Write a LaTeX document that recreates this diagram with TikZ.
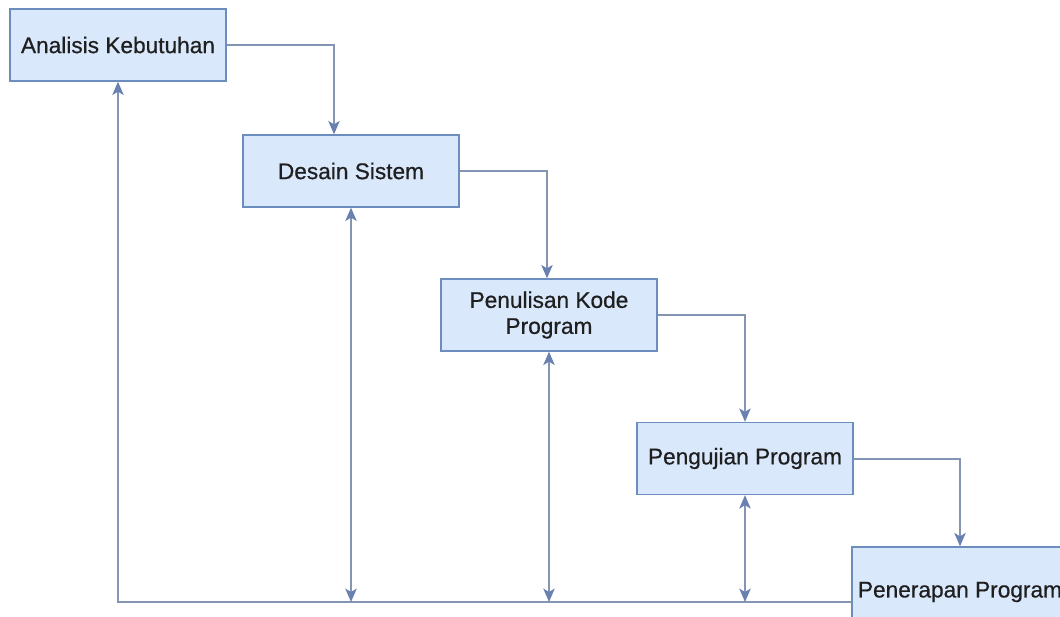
\documentclass[tikz,border=0pt]{standalone}
\usepackage{fontspec}
\setmainfont{Liberation Sans}[FakeBold=0.6]
\usetikzlibrary{arrows.meta,positioning}
\definecolor{boxfill}{HTML}{DAE8FC}
\definecolor{boxline}{HTML}{6C8EBF}
\definecolor{edgeline}{HTML}{8494B3}
\definecolor{tipfill}{HTML}{6A80B0}
\tikzset{tip/.tip={Stealth[length=10pt,width=8.5pt,inset=2.5pt,color=tipfill]}}
\begin{document}
\begin{tikzpicture}[x=0.75pt,y=-0.75pt,
    phase/.style={rectangle,draw=boxline,fill=boxfill,line width=1pt,
        minimum width=162pt,minimum height=54pt,inner sep=2pt,align=center,
        text=black!88,font=\fontsize{17}{19.5}\selectfont},
    flow/.style={draw=edgeline,line width=1.5pt,-tip},
    twoway/.style={flow,tip-tip}]
    \useasboundingbox (0,0) rectangle (1060,617);
    \clip (0,0) rectangle (1060,617);
    \fill[white] (0,0) rectangle (1060,617);
    \coordinate (base) at (0,602);
    % phases
    \node[phase] (analisis) at (118,45) {Analisis Kebutuhan};
    \node[phase] (desain) at (351,171) {Desain Sistem};
    \node[phase] (kode) at (549,315) {Penulisan Kode\\Program};
    \node[phase] (uji) at (745,458.5) {Pengujian Program};
    \node[phase,minimum height=67.5pt] (terap) at (960,592) {Penerapan Program};
    % forward flow
    \draw[flow] (analisis.east) -| ([xshift=-12.75pt]desain.north);
    \draw[flow] (desain.east) -| ([xshift=-1.5pt]kode.north);
    \draw[flow] (kode.east) -| (uji.north);
    \draw[flow] (uji.east) -| (terap.north);
    % feedback
    \draw[flow] (terap.west |- base) -| (analisis.south);
    \draw[twoway] (desain.south) -- (desain.south |- base);
    \draw[twoway] (kode.south) -- (kode.south |- base);
    \draw[twoway] (uji.south) -- (uji.south |- base);
\end{tikzpicture}
\end{document}
